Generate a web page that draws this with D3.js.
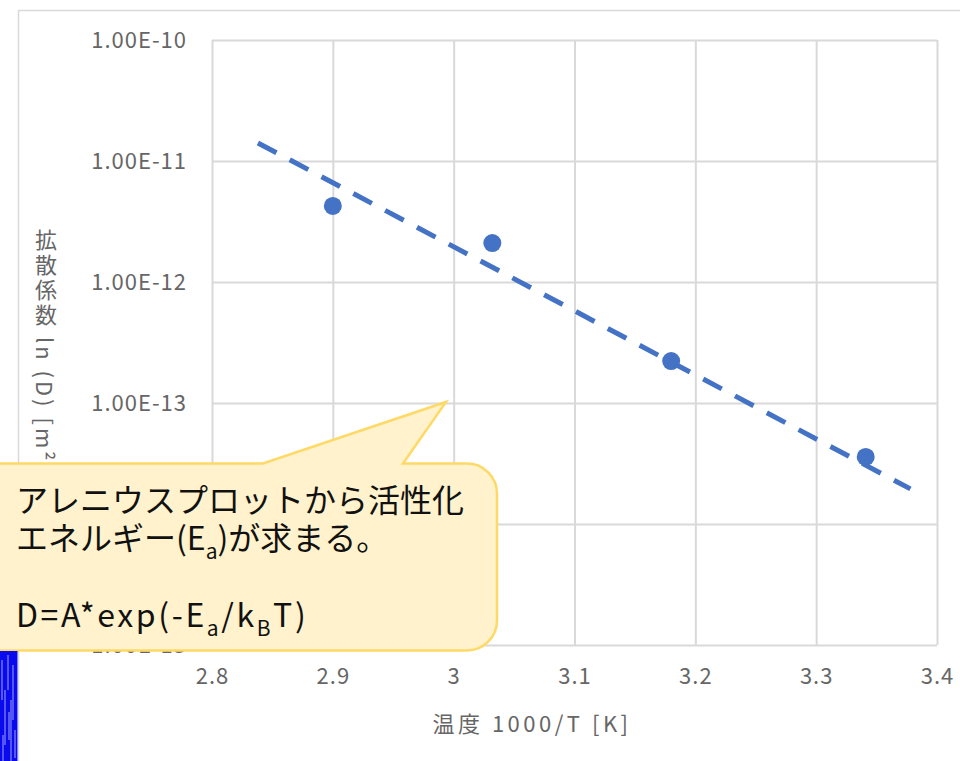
<!DOCTYPE html>
<html>
<head>
<meta charset="utf-8">
<script src="https://cdn.jsdelivr.net/npm/d3@7"></script>
<style>
  html, body { margin: 0; padding: 0; background: #ffffff; }
  svg { display: block; font-family: "Noto Sans CJK JP", "Noto Sans", sans-serif; }
</style>
</head>
<body>
<svg id="chart" width="960" height="761"></svg>
<script>
// Arrhenius plot: diffusion coefficient vs. inverse temperature
const xTicks = [2.8, 2.9, 3.0, 3.1, 3.2, 3.3, 3.4];
const yTicks = [1e-10, 1e-11, 1e-12, 1e-13, 1e-14, 1e-15];
const invT = [2.900, 3.032, 3.180, 3.341];
const diffusion = [4.25e-12, 2.10e-12, 2.22e-13, 3.58e-14];
// exponential trendline end points
const trendInvT = [2.838, 3.378];
const trendD = [1.41e-11, 1.95e-14];
const xTitle = "温度 1000/T [K]";
const yTitle = "拡散係数 ln (D) [m²/s]";
const noteLines = [
  [{t: "アレニウスプロットから活性化"}],
  [{t: "エネルギー(E"}, {t: "a", sub: true}, {t: ")が求まる。"}],
  [],
  [{t: "D=A*exp(-E"}, {t: "a", sub: true}, {t: "/k"}, {t: "B", sub: true}, {t: "T)"}]
];

const svg = d3.select("#chart");
const W = 960, H = 761;
const plot = {left: 212, right: 937, top: 40, bottom: 645};

const x = d3.scaleLinear().domain([2.8, 3.4]).range([plot.left, plot.right]);
const y = d3.scaleLog().domain([1e-15, 1e-10]).range([plot.bottom, plot.top]);

const grid = "#d9d9d9";
const labelColor = "#666666";

// chart area frame
svg.append("path")
  .attr("d", `M18.5,${H + 2} V10.5 H${W + 2}`)
  .attr("fill", "none").attr("stroke", grid).attr("stroke-width", 1.5);

// gridlines
const gx = svg.append("g").attr("transform", `translate(0,${plot.bottom})`)
  .call(d3.axisBottom(x).tickValues(xTicks).tickSize(-(plot.bottom - plot.top)).tickFormat(""));
const gy = svg.append("g").attr("transform", `translate(${plot.left},0)`)
  .call(d3.axisLeft(y).tickValues(yTicks).tickSize(-(plot.right - plot.left)).tickFormat(""));
[gx, gy].forEach(g => {
  g.select(".domain").remove();
  g.selectAll(".tick line").attr("stroke", grid).attr("stroke-width", 2);
});

// tick labels
const xl = svg.append("g").attr("transform", `translate(0,${plot.bottom + 31})`)
  .call(d3.axisBottom(x).tickValues(xTicks).tickSize(0).tickPadding(0)
    .tickFormat(d => String(+d.toFixed(1))));
xl.select(".domain").remove();
xl.selectAll("text").attr("font-size", 22).attr("fill", labelColor)
  .attr("font-family", "'Noto Sans CJK JP', sans-serif")
  .attr("letter-spacing", 1)
  .attr("dy", "0.35em").attr("y", 0);

const yl = svg.append("g").attr("transform", `translate(${plot.left - 25},0)`)
  .call(d3.axisLeft(y).tickValues(yTicks).tickSize(0).tickPadding(0)
    .tickFormat(d => "1.00E" + Math.round(Math.log10(d))));
yl.select(".domain").remove();
yl.selectAll("text").attr("font-size", 22).attr("fill", labelColor)
  .attr("font-family", "'Noto Sans CJK JP', sans-serif")
  .attr("letter-spacing", 1)
  .attr("dy", "0.35em").attr("x", 0);

// axis titles
svg.append("text")
  .attr("x", 532).attr("y", 724).attr("dy", "0.35em")
  .attr("text-anchor", "middle").attr("font-size", 22).attr("fill", labelColor)
  .attr("letter-spacing", 3.5)
  .text(xTitle);

svg.append("text")
  .attr("x", 46).attr("y", 229)
  .attr("text-anchor", "start").attr("font-size", 22).attr("fill", labelColor)
  .attr("letter-spacing", 3)
  .style("writing-mode", "vertical-rl").style("text-orientation", "mixed")
  .text(yTitle);

// trendline
svg.append("path")
  .datum(d3.zip(trendInvT, trendD))
  .attr("d", d3.line().x(d => x(d[0])).y(d => y(d[1])))
  .attr("fill", "none").attr("stroke", "#4472c4").attr("stroke-width", 5)
  .attr("stroke-dasharray", "21,15");

// data points
svg.append("g").selectAll("circle")
  .data(d3.zip(invT, diffusion))
  .join("circle")
  .attr("cx", d => x(d[0])).attr("cy", d => y(d[1])).attr("r", 9)
  .attr("fill", "#4472c4");

// callout balloon
const box = {x0: -30, x1: 497, y0: 463.5, y1: 650.5, r: 30};
const tip = {x: 446, y: 402, b0: 263, b1: 403};
const callout =
  `M${box.x0},${box.y0} H${tip.b0} L${tip.x},${tip.y} L${tip.b1},${box.y0} ` +
  `H${box.x1 - box.r} A${box.r},${box.r} 0 0 1 ${box.x1},${box.y0 + box.r} ` +
  `V${box.y1 - box.r} A${box.r},${box.r} 0 0 1 ${box.x1 - box.r},${box.y1} H${box.x0} Z`;
svg.append("path").attr("d", callout)
  .attr("fill", "#fff2cc").attr("stroke", "#ffd966").attr("stroke-width", 2.5)
  .attr("stroke-linejoin", "miter");

const noteG = svg.append("g").attr("font-size", 32).attr("fill", "#111111");
noteLines.forEach((parts, i) => {
  if (!parts.length) return;
  const latin = i === 3;
  const t = noteG.append("text").attr("x", 16).attr("y", 512 + i * 38.3)
    .attr("letter-spacing", latin ? 2.6 : 0);
  let lowered = false;
  parts.forEach(p => {
    const s = t.append("tspan").text(p.t);
    if (p.sub && !lowered) { s.attr("dy", 9).attr("font-size", 21); lowered = true; }
    else if (p.sub) { s.attr("font-size", 21); }
    else if (lowered) { s.attr("dy", -9); lowered = false; }
  });
});

// blue strip at lower left
const strip = svg.append("g");
strip.append("rect").attr("x", 0).attr("y", 651).attr("width", 17.5).attr("height", H - 651)
  .attr("fill", "#0a0aee");
const streaks = [[2, 660, 700], [5, 690, 745], [8, 655, 690], [11, 700, 761], [13, 665, 720], [15, 730, 758], [3, 735, 761], [9, 712, 740]];
strip.selectAll("line").data(streaks).join("line")
  .attr("x1", d => d[0]).attr("x2", d => d[0]).attr("y1", d => d[1]).attr("y2", d => d[2])
  .attr("stroke", "#c8c8ff").attr("stroke-width", 1).attr("opacity", 0.8);
</script>
</body>
</html>
